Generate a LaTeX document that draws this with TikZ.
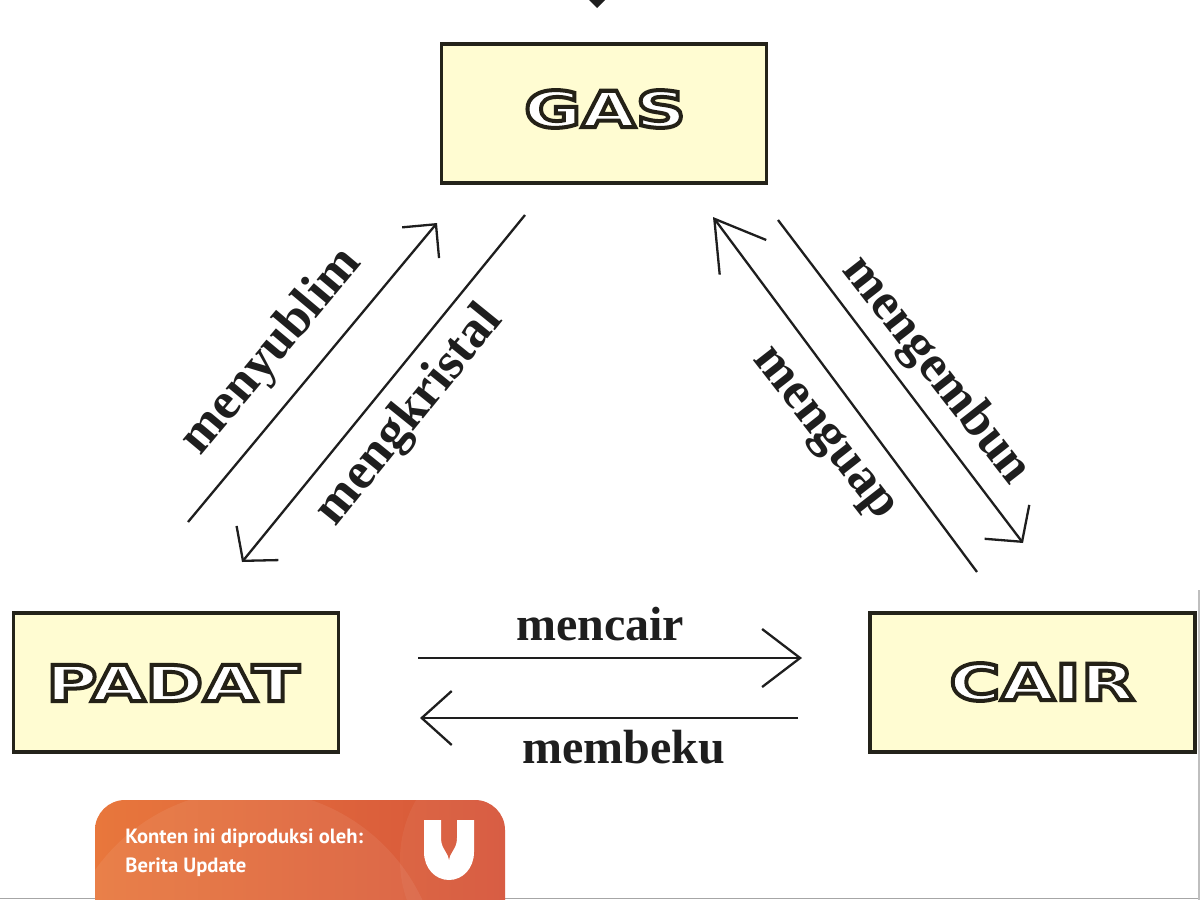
\documentclass[tikz,border=0pt]{standalone}
\usepackage{fontspec}
\setmainfont{Liberation Serif}
\newfontfamily\techfont[FakeStretch=1.4]{DejaVu Sans}
\newfontfamily\badgefont{PT Sans}
\usetikzlibrary{arrows.meta}
\definecolor{boxfill}{HTML}{FFFCD2}
\definecolor{boxline}{HTML}{24231A}
\definecolor{ink}{HTML}{1E1E1E}
\definecolor{badgeL}{HTML}{E8773C}
\definecolor{badgeR}{HTML}{D6553A}
\newcommand\outlined[1]{\special{pdf:literal direct 2 Tr 2 w 0.14 0.13 0.09 RG 1 1 1 rg}#1\special{pdf:literal direct 0 Tr}}
\begin{document}
\begin{tikzpicture}[x=0.5pt,y=-0.5pt,
  statebox/.style={draw=boxline, line width=1.6pt, fill=boxfill, minimum width=162.5pt, minimum height=69.5pt, inner sep=0pt},
  statetext/.style={font=\techfont\bfseries\fontsize{25}{25}\selectfont, text=white, inner sep=0pt},
  proc/.style={draw=ink, line width=1.15pt},
  lab/.style={font=\bfseries\fontsize{24}{24}\selectfont, text=ink, inner sep=0pt},
  dlab/.style={font=\bfseries\fontsize{26}{26}\selectfont, text=ink, inner sep=0pt},
  badgetext/.style={anchor=base west, text=white, font=\badgefont\bfseries\fontsize{10.3}{10.3}\selectfont, inner sep=0pt},
]
\useasboundingbox (0,0) rectangle (1200,900);
\clip (0,0) rectangle (1200,900);
\fill[white] (0,0) rectangle (1200,900);

% state boxes
\node[statebox] (gas) at (604,113.5) {};
\node[statetext] (gast) at (605,109) {\outlined{GAS}};
\node[statebox] (padat) at (176,682.5) {};
\node[statetext] (padatt) at (173,683) {\outlined{PADAT}};
\node[statebox] (cair) at (1032.5,682.5) {};
\node[statetext] (cairt) at (1042,682) {\outlined{CAIR}};

% arrow end points
\coordinate (a1s) at (188,522); \coordinate (a1e) at (437,223);
\coordinate (a2s) at (525,215); \coordinate (a2e) at (242,562);
\coordinate (a3s) at (977,572); \coordinate (a3e) at (713,217);
\coordinate (a4s) at (778,220); \coordinate (a4e) at (1023,543);
\coordinate (a5s) at (418,658); \coordinate (a5e) at (802,658);
\coordinate (a6s) at (798,718); \coordinate (a6e) at (420,718);

\draw[proc, -{Straight Barb[length=12pt,width=24pt]}] (a1s) -- (a1e);
\draw[proc, -{Straight Barb[length=11.5pt,width=27pt]}] (a2s) -- (a2e);
\draw[proc, -{Straight Barb[length=24pt,width=29pt]}] (a3s) -- (a3e);
\draw[proc, -{Straight Barb[length=12.5pt,width=28pt]}] (a4s) -- (a4e);
\draw[proc, -{Straight Barb[length=19pt,width=29pt]}] (a5s) -- (a5e);
\draw[proc, -{Straight Barb[length=15pt,width=27pt]}] (a6s) -- (a6e);

% labels
\node[dlab, rotate=50] (l1) at (272,352) {menyublim};
\node[dlab, rotate=51] (l2) at (410,416) {mengkristal};
\node[dlab, rotate=-52] (l3) at (822,436) {menguap};
\node[dlab, rotate=-52] (l4) at (936,371) {mengembun};
\node[lab, anchor=base] (l5) at (600,640) {mencair};
\node[lab, anchor=base] (l6) at (624,763) {membeku};

% top tip fragment
\fill[ink] (589,0) -- (605,0) -- (597,8) -- cycle;

% frame edges
\draw[gray!70, line width=0.8pt] (0,898.5) -- (1200,898.5);
\draw[gray!50, line width=0.6pt] (1199,590) -- (1199,900);

% badge
\begin{scope}
\path[clip, rounded corners=15pt] (95,800) rectangle (505,960);
\shade[left color=badgeL, right color=badgeR] (95,800) rectangle (505,960);
\fill[white, opacity=0.07] (250,980) circle[radius=95pt];
\fill[white, opacity=0.05] (520,860) circle[radius=60pt];
\end{scope}
\node[badgetext] (b1) at (125,843) {Konten ini diproduksi oleh:};
\node[badgetext] (b2) at (125,872) {Berita Update};
\fill[white] (424,820) -- (441,820) -- (441,838) .. controls (441,850) and (449,852) .. (449,862) .. controls (449,852) and (457,850) .. (457,838) -- (457,820) -- (474,820) -- (474,852) .. controls (474,868) and (463,880) .. (449,880) .. controls (435,880) and (424,868) .. (424,852) -- cycle;
\end{tikzpicture}
\end{document}
